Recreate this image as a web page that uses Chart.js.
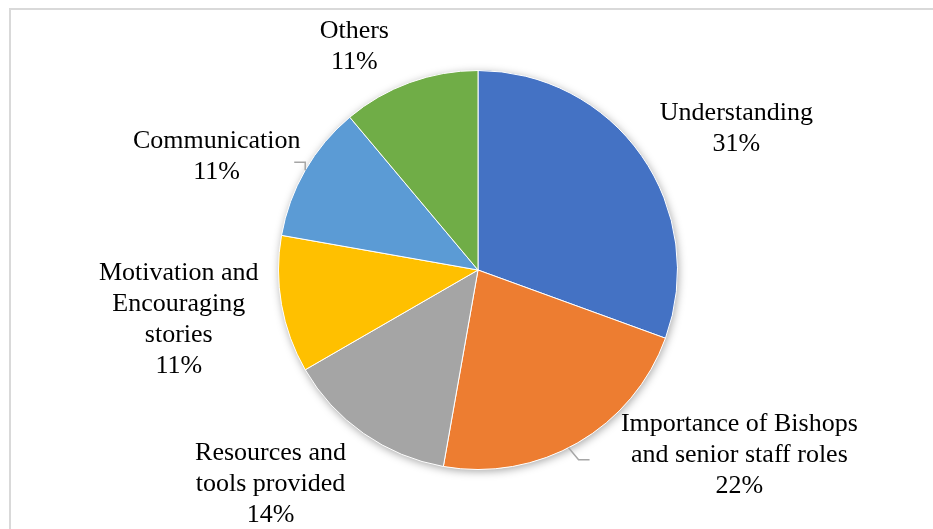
<!DOCTYPE html>
<html>
<head>
<meta charset="utf-8">
<script src="https://cdn.jsdelivr.net/npm/chart.js@4.4.1/dist/chart.umd.min.js"></script>
<style>
  html, body { margin: 0; padding: 0; background: #fff; }
  #wrap { width: 933px; height: 529px; position: relative; }
</style>
</head>
<body>
<div id="wrap"><canvas id="pieChart" width="933" height="529"></canvas></div>
<script>
// Responses per theme (36 in total)
const categories = [
    ['Understanding'],
    ['Importance of Bishops', 'and senior staff roles'],
    ['Resources and', 'tools provided'],
    ['Motivation and', 'Encouraging', 'stories'],
    ['Communication'],
    ['Others']
];
const counts = [11, 8, 5, 4, 4, 4];
const sliceColors = ['#4472C4', '#ED7D31', '#A5A5A5', '#FFC000', '#5B9BD5', '#70AD47'];

// label block centres, in radius units from the pie centre
const labelOffsets = [
    [1.295, -0.71],
    [1.31, 0.93],
    [-1.04, 1.075],
    [-1.5, 0.25],
    [-1.31, -0.57],
    [-0.62, -1.12]
];
// slices that get a short leader line: angle on the rim (deg from top, clockwise) and elbow direction
const leaders = {
    1: { angle: 153, elbow: [10, 12], tail: 11 },
    4: { angle: 300, elbow: [0, -8], tail: -11 }
};

const FONT = "26px 'Liberation Serif', 'Times New Roman', serif";
const LINE_H = 31;

const framePlugin = {
    id: 'frame',
    beforeDraw(chart) {
        const ctx = chart.ctx;
        ctx.save();
        ctx.fillStyle = '#fff';
        ctx.fillRect(0, 0, chart.width, chart.height);
        ctx.strokeStyle = '#d9d9d9';
        ctx.lineWidth = 2;
        ctx.beginPath();
        ctx.moveTo(10, chart.height + 5);
        ctx.lineTo(10, 9);
        ctx.lineTo(chart.width + 5, 9);
        ctx.stroke();
        ctx.restore();
    }
};

// soft drop shadow under the whole pie
const shadowPlugin = {
    id: 'pieShadow',
    beforeDatasetsDraw(chart) {
        const arc = chart.getDatasetMeta(0).data[0];
        const ctx = chart.ctx;
        ctx.save();
        ctx.shadowColor = 'rgba(0,0,0,0.35)';
        ctx.shadowBlur = 9;
        ctx.shadowOffsetX = 1;
        ctx.shadowOffsetY = 2;
        ctx.fillStyle = '#fff';
        ctx.beginPath();
        ctx.arc(arc.x, arc.y, arc.outerRadius, 0, Math.PI * 2);
        ctx.fill();
        ctx.restore();
    }
};

const labelPlugin = {
    id: 'sliceLabels',
    afterDatasetsDraw(chart) {
        const meta = chart.getDatasetMeta(0);
        const arc0 = meta.data[0];
        const cx = arc0.x, cy = arc0.y, r = arc0.outerRadius;
        const total = counts.reduce((a, b) => a + b, 0);
        const ctx = chart.ctx;
        ctx.save();

        // leader lines
        ctx.strokeStyle = '#a6a6a6';
        ctx.lineWidth = 1.5;
        Object.keys(leaders).forEach(i => {
            const l = leaders[i];
            const a = (l.angle - 90) * Math.PI / 180;
            const px = cx + Math.cos(a) * r;
            const py = cy + Math.sin(a) * r;
            const ex = px + l.elbow[0], ey = py + l.elbow[1];
            ctx.beginPath();
            ctx.moveTo(px, py);
            ctx.lineTo(ex, ey);
            ctx.lineTo(ex + l.tail, ey);
            ctx.stroke();
        });

        ctx.font = FONT;
        ctx.fillStyle = '#000';
        ctx.textAlign = 'center';
        ctx.textBaseline = 'middle';
        categories.forEach((lines, i) => {
            const pct = Math.round(counts[i] / total * 100) + '%';
            const all = lines.concat([pct]);
            const bx = cx + labelOffsets[i][0] * r;
            const by = cy + labelOffsets[i][1] * r;
            const y0 = by - (all.length - 1) * LINE_H / 2;
            all.forEach((t, k) => ctx.fillText(t, bx, y0 + k * LINE_H));
        });
        ctx.restore();
    }
};

new Chart(document.getElementById('pieChart'), {
    type: 'pie',
    data: {
        labels: categories.map(c => c.join(' ')),
        datasets: [{
            data: counts,
            backgroundColor: sliceColors,
            borderColor: '#ffffff',
            borderWidth: 1
        }]
    },
    options: {
        responsive: false,
        animation: false,
        layout: { padding: { top: 70, bottom: 59, left: 278, right: 255 } },
        plugins: {
            legend: { display: false },
            tooltip: { enabled: false }
        }
    },
    plugins: [framePlugin, shadowPlugin, labelPlugin]
});
</script>
</body>
</html>
